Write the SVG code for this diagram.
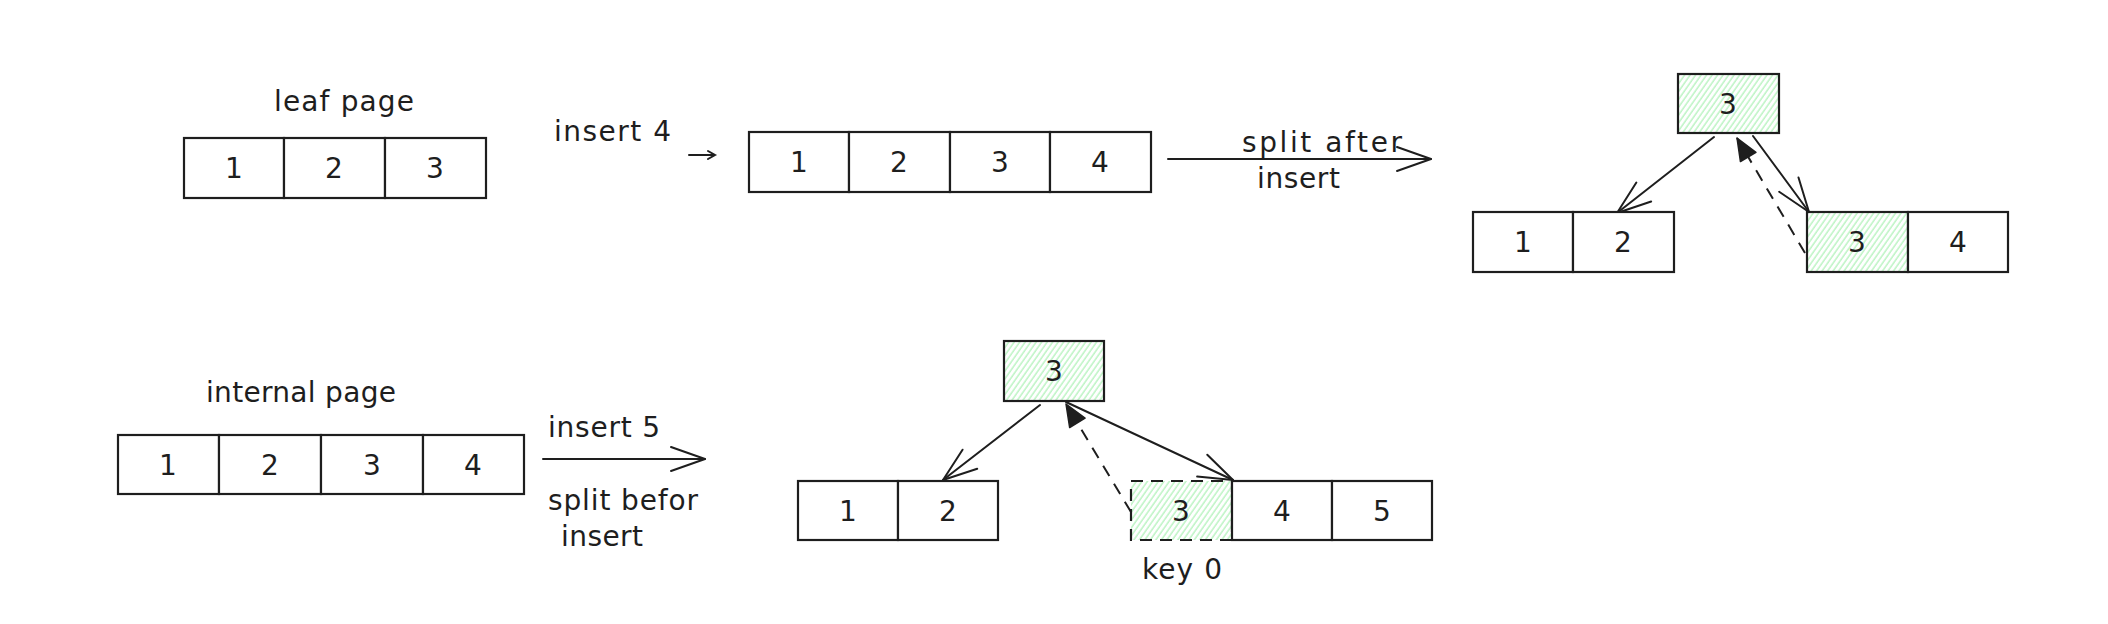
<svg xmlns="http://www.w3.org/2000/svg" width="2108" height="624" viewBox="0 0 2108 624">
<style>
.box{fill:#ffffff;stroke:#1e1e1e;stroke-width:2.2}
.g{fill:url(#hatch);stroke:#1e1e1e;stroke-width:2.2}
.gd{fill:url(#hatch);stroke:#1e1e1e;stroke-width:2.2;stroke-dasharray:12 8}
.num{font-family:"DejaVu Sans","Liberation Sans",sans-serif;font-size:28px;fill:#1e1e1e;text-anchor:middle}
.lbl{font-family:"DejaVu Sans","Liberation Sans",sans-serif;font-size:28px;fill:#1e1e1e}
.ln{fill:none;stroke:#1e1e1e;stroke-width:2;stroke-linecap:round}
.dash{fill:none;stroke:#1e1e1e;stroke-width:2;stroke-dasharray:12 9}
</style>
<defs>
<pattern id="hatch" patternUnits="userSpaceOnUse" width="4.5" height="8" patternTransform="rotate(35)">
<line x1="1" y1="0" x2="1" y2="8" stroke="#b2f2bb" stroke-width="1.3"/>
</pattern>
<marker id="open" markerUnits="userSpaceOnUse" viewBox="-38 -16 40 32" refX="0" refY="0" markerWidth="40" markerHeight="32" orient="auto" overflow="visible">
<path d="M-34,-12 L0,0 L-34,12" fill="none" stroke="#1e1e1e" stroke-width="2" stroke-linecap="round" stroke-linejoin="round"/>
</marker>
<marker id="filled" markerUnits="userSpaceOnUse" viewBox="-24 -10 26 20" refX="0" refY="0" markerWidth="26" markerHeight="20" orient="auto" overflow="visible">
<path d="M-22,-9 L0,0 L-22,9 Z" fill="#1e1e1e" stroke="#1e1e1e" stroke-width="1.5" stroke-linejoin="round"/>
</marker>
</defs>
<rect width="2108" height="624" fill="#ffffff"/>

<g id="connectors">
<path class="ln" d="M689,155 L715,155 M708,151 L715,155 L708,159"/>
<path class="ln" d="M1168,159 L1431,159" marker-end="url(#open)"/>
<path class="ln" d="M1714,137 L1617,213" marker-end="url(#open)"/>
<path class="ln" d="M1753,136 L1809,212" marker-end="url(#open)"/>
<path class="dash" d="M1805,253 L1737,138" marker-end="url(#filled)"/>
<path class="ln" d="M543,459 L705,459" marker-end="url(#open)"/>
<path class="ln" d="M1040,405 L943,480" marker-end="url(#open)"/>
<path class="ln" d="M1066,402 L1233,480" stroke-width="2.5" marker-end="url(#open)"/>
<path class="dash" d="M1131,512 L1066,404" marker-end="url(#filled)"/>
</g>

<g id="leaf-page">
<text class="lbl" x="274" y="111" textLength="140" lengthAdjust="spacing">leaf page</text>
<rect class="box" x="184" y="138" width="100" height="60"/>
<rect class="box" x="284" y="138" width="101" height="60"/>
<rect class="box" x="385" y="138" width="101" height="60"/>
<text class="num" x="234" y="178">1</text>
<text class="num" x="334" y="178">2</text>
<text class="num" x="435" y="178">3</text>
</g>

<g id="insert-4-label">
<text class="lbl" x="554" y="141" textLength="117" lengthAdjust="spacing">insert 4</text>
</g>

<g id="leaf-after-insert">
<rect class="box" x="749" y="132" width="100" height="60"/>
<rect class="box" x="849" y="132" width="101" height="60"/>
<rect class="box" x="950" y="132" width="100" height="60"/>
<rect class="box" x="1050" y="132" width="101" height="60"/>
<text class="num" x="799" y="172">1</text>
<text class="num" x="899" y="172">2</text>
<text class="num" x="1000" y="172">3</text>
<text class="num" x="1100" y="172">4</text>
</g>

<g id="split-after-label">
<text class="lbl" x="1242" y="152" textLength="160" lengthAdjust="spacing">split after</text>
<text class="lbl" x="1257" y="188" textLength="83" lengthAdjust="spacing">insert</text>
</g>

<g id="tree1-root">
<rect class="g" x="1678" y="74" width="101" height="59"/>
<text class="num" x="1728" y="114">3</text>
</g>
<g id="tree1-left">
<rect class="box" x="1473" y="212" width="100" height="60"/>
<rect class="box" x="1573" y="212" width="101" height="60"/>
<text class="num" x="1523" y="252">1</text>
<text class="num" x="1623" y="252">2</text>
</g>
<g id="tree1-right">
<rect class="g" x="1807" y="212" width="101" height="60"/>
<rect class="box" x="1908" y="212" width="100" height="60"/>
<text class="num" x="1857" y="252">3</text>
<text class="num" x="1958" y="252">4</text>
</g>

<g id="internal-page">
<text class="lbl" x="206" y="402" textLength="190" lengthAdjust="spacing">internal page</text>
<rect class="box" x="118" y="435" width="101" height="59"/>
<rect class="box" x="219" y="435" width="102" height="59"/>
<rect class="box" x="321" y="435" width="102" height="59"/>
<rect class="box" x="423" y="435" width="101" height="59"/>
<text class="num" x="168" y="475">1</text>
<text class="num" x="270" y="475">2</text>
<text class="num" x="372" y="475">3</text>
<text class="num" x="473" y="475">4</text>
</g>

<g id="insert-5-label">
<text class="lbl" x="548" y="437" textLength="112" lengthAdjust="spacing">insert 5</text>
<text class="lbl" x="548" y="510" textLength="150" lengthAdjust="spacing">split befor</text>
<text class="lbl" x="561" y="546" textLength="82" lengthAdjust="spacing">insert</text>
</g>

<g id="tree2-root">
<rect class="g" x="1004" y="341" width="100" height="60"/>
<text class="num" x="1054" y="381">3</text>
</g>
<g id="tree2-left">
<rect class="box" x="798" y="481" width="100" height="59"/>
<rect class="box" x="898" y="481" width="100" height="59"/>
<text class="num" x="848" y="521">1</text>
<text class="num" x="948" y="521">2</text>
</g>
<g id="tree2-right">
<rect class="gd" x="1131" y="481" width="101" height="59"/>
<rect class="box" x="1232" y="481" width="100" height="59"/>
<rect class="box" x="1332" y="481" width="100" height="59"/>
<text class="num" x="1181" y="521">3</text>
<text class="num" x="1282" y="521">4</text>
<text class="num" x="1382" y="521">5</text>
<text class="lbl" x="1142" y="579" textLength="80" lengthAdjust="spacing">key 0</text>
</g>
</svg>
